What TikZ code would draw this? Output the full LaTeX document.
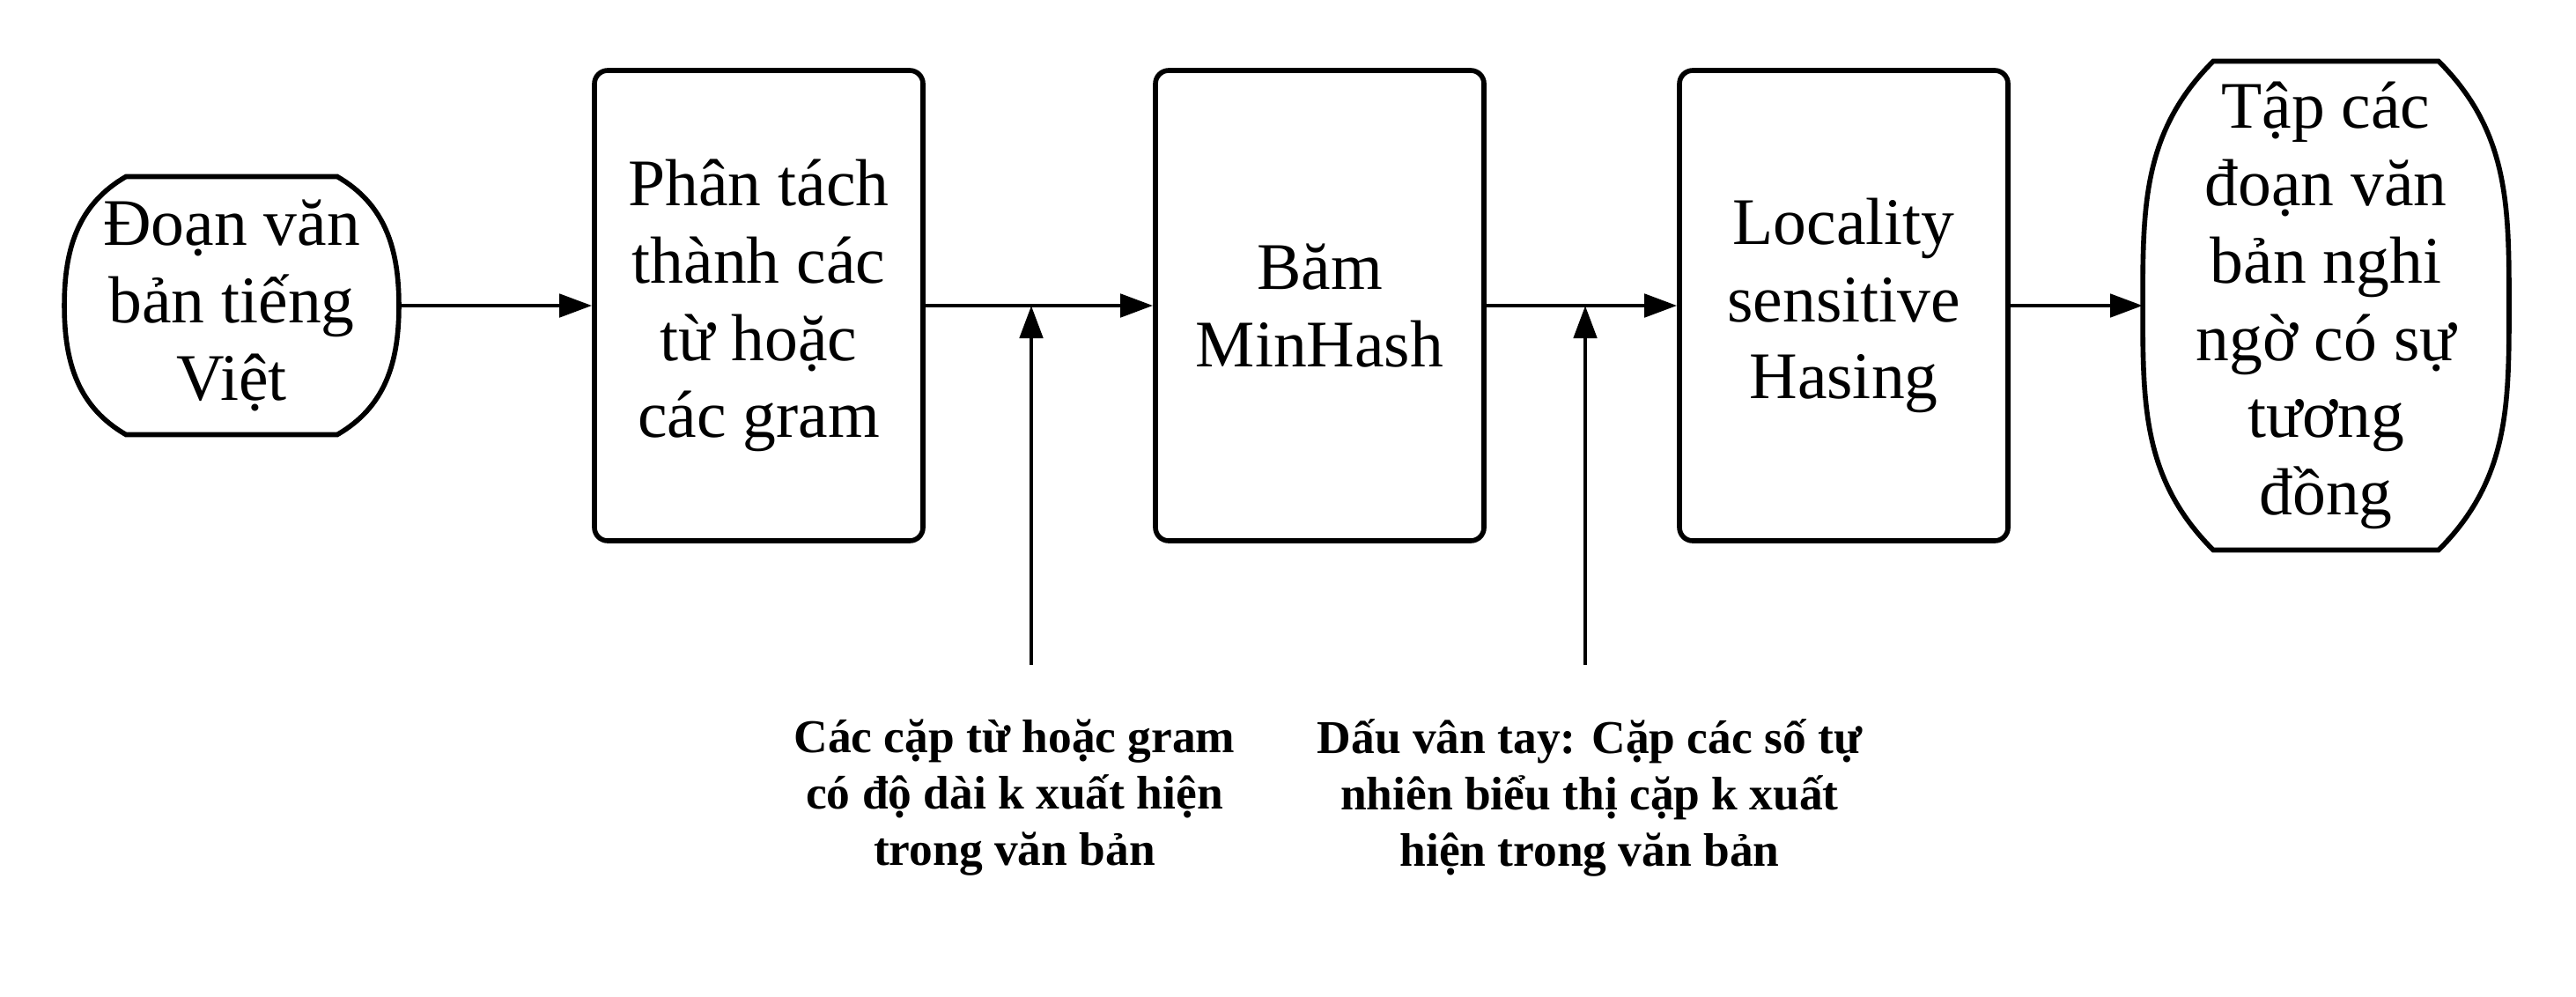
\documentclass[tikz,border=0pt]{standalone}
\usepackage{fontspec}
\setmainfont{Liberation Serif}
\usetikzlibrary{arrows.meta}

\begin{document}
\begin{tikzpicture}[line width=1.4pt, >={Triangle[length=3.7mm,width=2.6mm]}]
\tikzstyle{every node} = [align=center, font=\fontsize{21.5}{25}\selectfont]
\tikzstyle{buoc} = [draw, rounded corners=.15cm, minimum width=3.73cm, minimum height=5.34cm, line width=1.6pt]
\tikzstyle{dau} = [inner sep=0pt]
\tikzstyle{khung} = [line width=1.6pt]
\tikzstyle{ghichu} = [font=\fontsize{15.2}{18.2}\selectfont\bfseries]
\useasboundingbox (0,0) rectangle (29.25,-11.31);

\node[dau, minimum width=3.75cm, minimum height=2.88cm] (doan) at (2.63,-3.47) {Đoạn văn\\bản tiếng\\Việt};
\node[buoc] (tach) at (8.615,-3.47) {Phân tách\\thành các\\từ hoặc\\các gram}
	edge [<-] (doan);
\node[buoc] (bam) at (14.985,-3.47) {Băm\\MinHash}
	edge [<-] (tach);
\node[buoc] (lsh) at (20.935,-3.47) {Locality\\sensitive\\Hasing}
	edge [<-] (bam);
\node[dau, minimum width=4.11cm, minimum height=5.5cm] (tap) at (26.41,-3.47) {Tập các\\đoạn văn\\bản nghi\\ngờ có sự\\tương\\đồng}
	edge [<-] (lsh);

% vien cong cho dau vao va dau ra
\draw[khung] ([xshift=.7cm]doan.north west) -- ([xshift=-.7cm]doan.north east)
	to[out=-30,in=90] (doan.east) to[out=-90,in=30] ([xshift=-.7cm]doan.south east)
	-- ([xshift=.7cm]doan.south west)
	to[out=150,in=-90] (doan.west) to[out=90,in=-150] cycle;
\draw[khung] ([xshift=.8cm]tap.north west) -- ([xshift=-.8cm]tap.north east)
	to[out=-45,in=90] (tap.east) to[out=-90,in=45] ([xshift=-.8cm]tap.south east)
	-- ([xshift=.8cm]tap.south west)
	to[out=135,in=-90] (tap.west) to[out=90,in=-135] cycle;

% cac dau vao phu
\node[ghichu] (gram) at (11.52,-9.06) {Các cặp từ hoặc gram\\có độ dài k xuất hiện\\trong văn bản};
\node[ghichu] (vantay) at (18.05,-9.06) {Dấu vân tay: Cặp các số tự\\nhiên biểu thị cặp k xuất\\hiện trong văn bản};
\coordinate (k1) at (11.71,-7.55);
\coordinate (k2) at (18.0,-7.55);
\draw[->] (k1) -- (k1 |- tach.east);
\draw[->] (k2) -- (k2 |- bam.east);
\end{tikzpicture}
\end{document}
